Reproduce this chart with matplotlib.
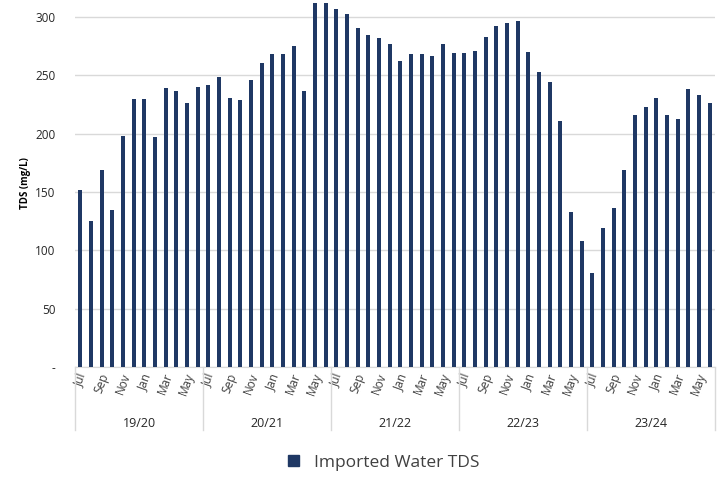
import matplotlib
matplotlib.use('Agg')
import matplotlib.pyplot as plt
import matplotlib.patches as mpatches
import matplotlib.transforms as mtransforms
import numpy as np

plt.rcParams['font.family'] = ['Open Sans', 'DejaVu Sans']

years = ['19/20', '20/21', '21/22', '22/23', '23/24']
months = ['Jul', 'Aug', 'Sep', 'Oct', 'Nov', 'Dec',
          'Jan', 'Feb', 'Mar', 'Apr', 'May', 'Jun']

# monthly imported water TDS (mg/L), Jul..Jun per fiscal year
tds_1920 = [152, 125, 169, 135, 198, 230, 230, 197, 239, 237, 226, 240]
tds_2021 = [242, 249, 231, 229, 246, 261, 268, 268, 275, 237, 312, 312]
tds_2122 = [307, 303, 291, 285, 282, 277, 262, 268, 268, 267, 277, 269]
tds_2223 = [269, 271, 283, 292, 295, 297, 270, 253, 244, 211, 133, 108]
tds_2324 = [81, 119, 136, 169, 216, 223, 231, 216, 213, 238, 233, 226]

values = tds_1920 + tds_2021 + tds_2122 + tds_2223 + tds_2324
n_months = len(months)
x = np.arange(len(values))

bar_color = '#1f3864'
grid_color = '#d9d9d9'

fig = plt.figure(figsize=(7.19, 4.78), dpi=100)
ax = fig.add_axes([0.1043, 0.2322, 0.8901, 0.7678])

ax.bar(x, values, width=0.36, color=bar_color, zorder=3)

ax.set_xlim(-0.5, len(values) - 0.5)
ax.set_ylim(0, 314.6)
yticks = [0, 50, 100, 150, 200, 250, 300]
ax.set_yticks(yticks)
ax.set_yticklabels(['-' if t == 0 else str(t) for t in yticks], fontsize=8.5, color='#262626')
ax.yaxis.grid(True, color=grid_color, linewidth=1, zorder=0)
ax.tick_params(axis='y', length=0, pad=14)
ax.set_ylabel('TDS (mg/L)', fontsize=7, fontweight='bold', labelpad=3)

# month ticks, every other month
tick_pos = [i for i in x if i % 2 == 0]
tick_lab = [months[i % n_months] for i in tick_pos]
ax.set_xticks(tick_pos)
ax.set_xticklabels(tick_lab, rotation=70, fontsize=8.5, color='#404040')
ax.tick_params(axis='x', length=0, pad=3)

for side in ['top', 'right', 'left']:
    ax.spines[side].set_visible(False)
ax.spines['bottom'].set_color(grid_color)

# fiscal year group labels and separators
trans = mtransforms.blended_transform_factory(ax.transData, ax.transAxes)
for k in range(len(years) + 1):
    xs = k * n_months - 0.5
    ax.plot([xs, xs], [0, -0.172], transform=trans, color=grid_color,
            linewidth=1, clip_on=False)
for k, yr in enumerate(years):
    ax.text(k * n_months + (n_months - 1) / 2, -0.153, yr, transform=trans,
            ha='center', va='center', fontsize=9, color='#262626')

handle = mpatches.Patch(color=bar_color, label='Imported Water TDS')
fig.legend(handles=[handle], loc='center', bbox_to_anchor=(0.534, 1 - 463 / 478),
           frameon=False, fontsize=12.5, handlelength=0.6, handleheight=0.6,
           handletextpad=0.9, labelcolor='#404040')

fig.savefig('out.png', dpi=100)
